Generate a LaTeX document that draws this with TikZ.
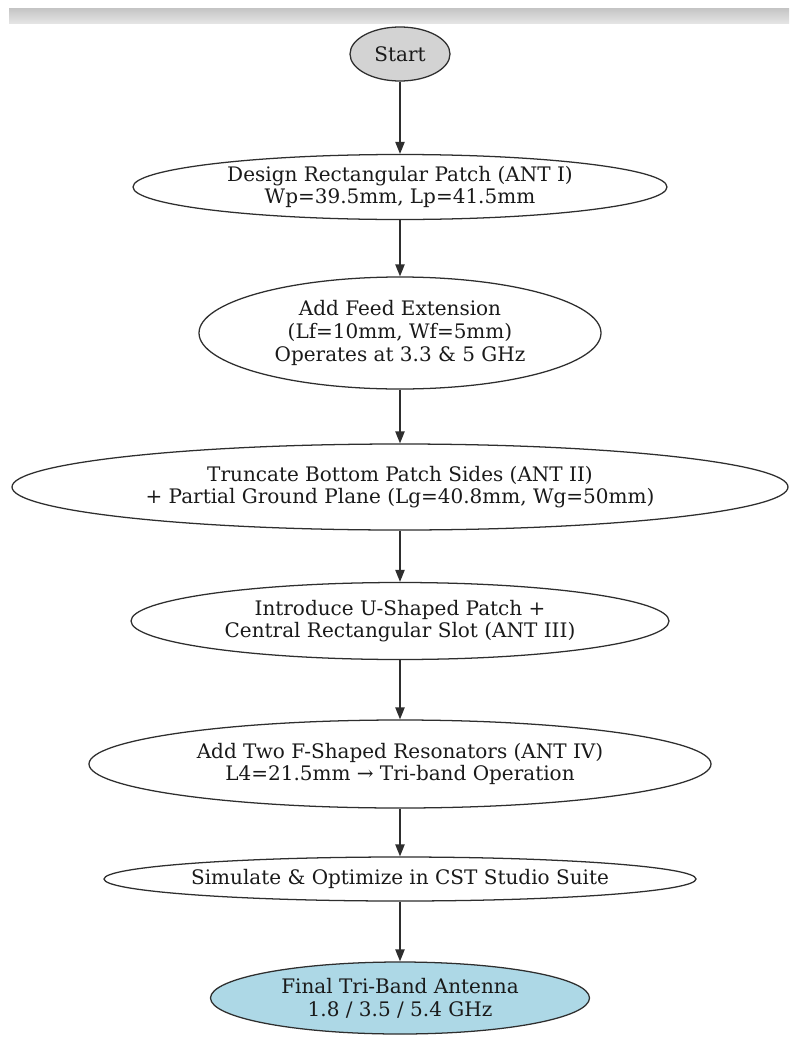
\documentclass[tikz,border=0pt]{standalone}
\usepackage{fontspec}
\setmainfont{DejaVu Serif}
\usepackage{tikz}
\usetikzlibrary{shapes.geometric, arrows.meta, positioning}
\definecolor{ink}{HTML}{1A1A1A}
\definecolor{edge}{HTML}{2E2E2E}
\definecolor{startfill}{HTML}{D3D3D3}
\definecolor{finalfill}{HTML}{ADD8E6}
\definecolor{bartop}{HTML}{C4C4C4}
\definecolor{barbot}{HTML}{E4E4E4}
\tikzset{
  stage/.style      ={ellipse, draw=edge, line width=0.95pt, fill=white,
                      text=ink, align=center, inner sep=0pt,
                      font=\fontsize{15}{17}\selectfont},
  stagestart/.style ={stage, fill=startfill},
  stagefinal/.style ={stage, fill=finalfill},
  flow/.style       ={-{Triangle[length=9pt,width=7pt]}, line width=0.95pt, draw=edge}
}
\begin{document}
\begin{tikzpicture}[x=0.75pt, y=-0.75pt]
  \useasboundingbox (0,0) rectangle (789,1046);
  \fill[white] (0,0) rectangle (789,1046);
  \fill[top color=bartop, bottom color=barbot] (9,8) rectangle (789,23);

  \node[stagestart, minimum width=75pt,    minimum height=40.5pt]  (start)  at (400,54)  {Start};
  \node[stage,      minimum width=400.5pt, minimum height=48.75pt] (patch)  at (400,187) {Design Rectangular Patch (ANT I)\\Wp=39.5mm, Lp=41.5mm};
  \node[stage,      minimum width=301.5pt, minimum height=84pt]    (feed)   at (400,333) {Add Feed Extension\\(Lf=10mm, Wf=5mm)\\Operates at 3.3 \& 5 GHz};
  \node[stage,      minimum width=582pt,   minimum height=64.5pt]  (trunc)  at (400,487) {Truncate Bottom Patch Sides (ANT II)\\+ Partial Ground Plane (Lg=40.8mm, Wg=50mm)};
  \node[stage,      minimum width=403.5pt, minimum height=57.75pt] (uslot)  at (400,621) {Introduce U-Shaped Patch +\\Central Rectangular Slot (ANT III)};
  \node[stage,      minimum width=466.5pt, minimum height=66pt]    (fres)   at (400,764) {Add Two F-Shaped Resonators (ANT IV)\\L4=21.5mm → Tri-band Operation};
  \node[stage,      minimum width=444pt,   minimum height=33pt]    (sim)    at (400,879) {Simulate \& Optimize in CST Studio Suite};
  \node[stagefinal, minimum width=284.25pt,minimum height=54pt]    (final)  at (400,998) {Final Tri-Band Antenna\\1.8 / 3.5 / 5.4 GHz};

  \draw[flow] (start) -- (patch);
  \draw[flow] (patch) -- (feed);
  \draw[flow] (feed)  -- (trunc);
  \draw[flow] (trunc) -- (uslot);
  \draw[flow] (uslot) -- (fres);
  \draw[flow] (fres)  -- (sim);
  \draw[flow] (sim)   -- (final);
\end{tikzpicture}
\end{document}
